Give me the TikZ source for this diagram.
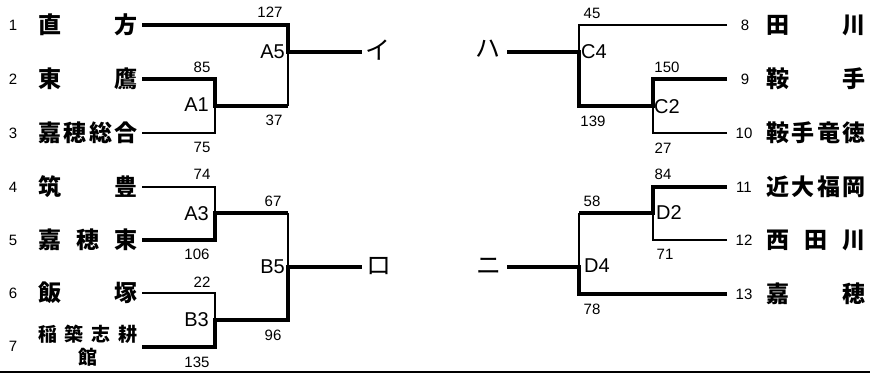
\documentclass[tikz,border=0pt]{standalone}
\usepackage{fontspec}
\setmainfont{Liberation Sans}
\newfontfamily\jp{Noto Sans CJK JP}
\usetikzlibrary{positioning}

\newcommand{\team}[1]{\makebox[100pt][s]{#1}}

\begin{document}
\begin{tikzpicture}[x=1pt, y=-1pt,
  every node/.style={inner sep=0pt, font=\fontsize{15}{15}\selectfont},
  lost/.style={line width=1.3pt},
  won/.style={line width=3.5pt},
  school/.style={font=\jp\bfseries\fontsize{23}{23}\selectfont},
  seed/.style={font=\fontsize{15}{15}\selectfont},
  game/.style={font=\fontsize{20}{20}\selectfont},
  kana/.style={font=\jp\fontsize{25}{25}\selectfont}]
  \useasboundingbox (0,0) rectangle (870,374);

  % left half
  \node[seed] (r1) at (13,25) {1};
  \node[seed] (r2) at (13,79) {2};
  \node[seed] (r3) at (13,133) {3};
  \node[seed] (r4) at (13,187) {4};
  \node[seed] (r5) at (13,240) {5};
  \node[seed] (r6) at (13,293) {6};
  \node[seed] (r7) at (13,346) {7};
  \node[school] (t1) at (88,25) {\team{直\hfill 方}};
  \node[school] (t2) at (88,79) {\team{東\hfill 鷹}};
  \node[school] (t3) at (88,133) {\team{嘉\hfill 穂\hfill 総\hfill 合}};
  \node[school] (t4) at (88,187) {\team{筑\hfill 豊}};
  \node[school] (t5) at (88,240) {\team{嘉\hfill 穂\hfill 東}};
  \node[school] (t6) at (88,293) {\team{飯\hfill 塚}};
  \node[school,align=center,font=\jp\bfseries\fontsize{19}{23}\selectfont] (t7) at (88,346) {\team{稲\hfill 築\hfill 志\hfill 耕}\\館};

  \coordinate (l1) at (142,25);
  \coordinate (l2) at (142,79);
  \coordinate (l3) at (142,133);
  \coordinate (l4) at (142,187);
  \coordinate (l5) at (142,240);
  \coordinate (l6) at (142,293);
  \coordinate (l7) at (142,347);
  \coordinate (a1) at (215,106);
  \coordinate (a3) at (215,213);
  \coordinate (b3) at (215,320);
  \coordinate (a5) at (288,52);
  \coordinate (b5) at (288,267);
  \coordinate (i) at (362,52);
  \coordinate (ro) at (362,267);

  \draw[lost] (l3) -| (a1);
  \draw[lost] (l4) -| (a3);
  \draw[lost] (l6) -| (b3);
  \draw[lost] (a5) -- (a5 |- a1);
  \draw[lost] (b5) -- (b5 |- a3);
  \draw[won] (l1) -| (a5) -- (i);
  \draw[won] (l2) -| (a1) -- (a1 -| a5);
  \draw[won] (l5) -| (a3) -- (a3 -| b5);
  \draw[won] (l7) -| (b3) -| (b5) -- (ro);

  \node (a5up) at (270,12) {127};
  \node (a5dn) at (274,120) {37};
  \node (a1up) at (202,67) {85};
  \node (a1dn) at (202,147) {75};
  \node (a3up) at (202,174) {74};
  \node (a3dn) at (197,254) {106};
  \node (b3up) at (202,282) {22};
  \node (b3dn) at (197,362) {135};
  \node (b5up) at (273,201) {67};
  \node (b5dn) at (273,335) {96};
  \node[game,anchor=east] (ga5) at (285,52) {A5};
  \node[game,anchor=east] (ga1) at (209,105) {A1};
  \node[game,anchor=east] (ga3) at (209,214) {A3};
  \node[game,anchor=east] (gb3) at (209,320) {B3};
  \node[game,anchor=east] (gb5) at (285,267) {B5};
  \node[kana] (ki) at (378,50) {イ};
  \node[kana] (kro) at (379,266) {ロ};

  % right half
  \node[seed] (r8) at (745,25) {8};
  \node[seed] (r9) at (745,79) {9};
  \node[seed] (r10) at (744,133) {10};
  \node[seed] (r11) at (744,187) {11};
  \node[seed] (r12) at (744,240) {12};
  \node[seed] (r13) at (744,294) {13};
  \node[school] (t8) at (816,25) {\team{田\hfill 川}};
  \node[school] (t9) at (816,79) {\team{鞍\hfill 手}};
  \node[school] (t10) at (816,133) {\team{鞍\hfill 手\hfill 竜\hfill 徳}};
  \node[school] (t11) at (816,187) {\team{近\hfill 大\hfill 福\hfill 岡}};
  \node[school] (t12) at (816,240) {\team{西\hfill 田\hfill 川}};
  \node[school] (t13) at (816,294) {\team{嘉\hfill 穂}};

  \coordinate (e8) at (727,25);
  \coordinate (e9) at (727,79);
  \coordinate (e10) at (727,133);
  \coordinate (e11) at (727,187);
  \coordinate (e12) at (727,240);
  \coordinate (e13) at (727,294);
  \coordinate (c2) at (653,106);
  \coordinate (d2) at (653,213);
  \coordinate (c4) at (579,52);
  \coordinate (d4) at (579,267);
  \coordinate (ha) at (507,52);
  \coordinate (ni) at (507,267);

  \draw[lost] (e8) -| (c4);
  \draw[lost] (e10) -| (c2);
  \draw[lost] (e12) -| (d2);
  \draw[lost] (d4) -- (d4 |- d2);
  \draw[won] (e9) -| (c2) -| (c4) -- (ha);
  \draw[won] (e11) -| (d2) -- (d2 -| d4);
  \draw[won] (e13) -| (d4) -- (ni);

  \node (c4up) at (592,13) {45};
  \node (c4dn) at (593,121) {139};
  \node (c2up) at (667,67) {150};
  \node (c2dn) at (663,148) {27};
  \node (d2up) at (663,174) {84};
  \node (d2dn) at (665,254) {71};
  \node (d4up) at (592,201) {58};
  \node (d4dn) at (592,309) {78};
  \node[game,anchor=west] (gc4) at (581,52) {C4};
  \node[game,anchor=west] (gc2) at (654,107) {C2};
  \node[game,anchor=west] (gd2) at (656,213) {D2};
  \node[game,anchor=west] (gd4) at (584,266) {D4};
  \node[kana] (kha) at (488,49) {ハ};
  \node[kana] (kni) at (489,266) {ニ};

  \coordinate (bl) at (0,372);
  \coordinate (br) at (870,372);
  \draw[lost] (bl) -- (br);
\end{tikzpicture}
\end{document}
